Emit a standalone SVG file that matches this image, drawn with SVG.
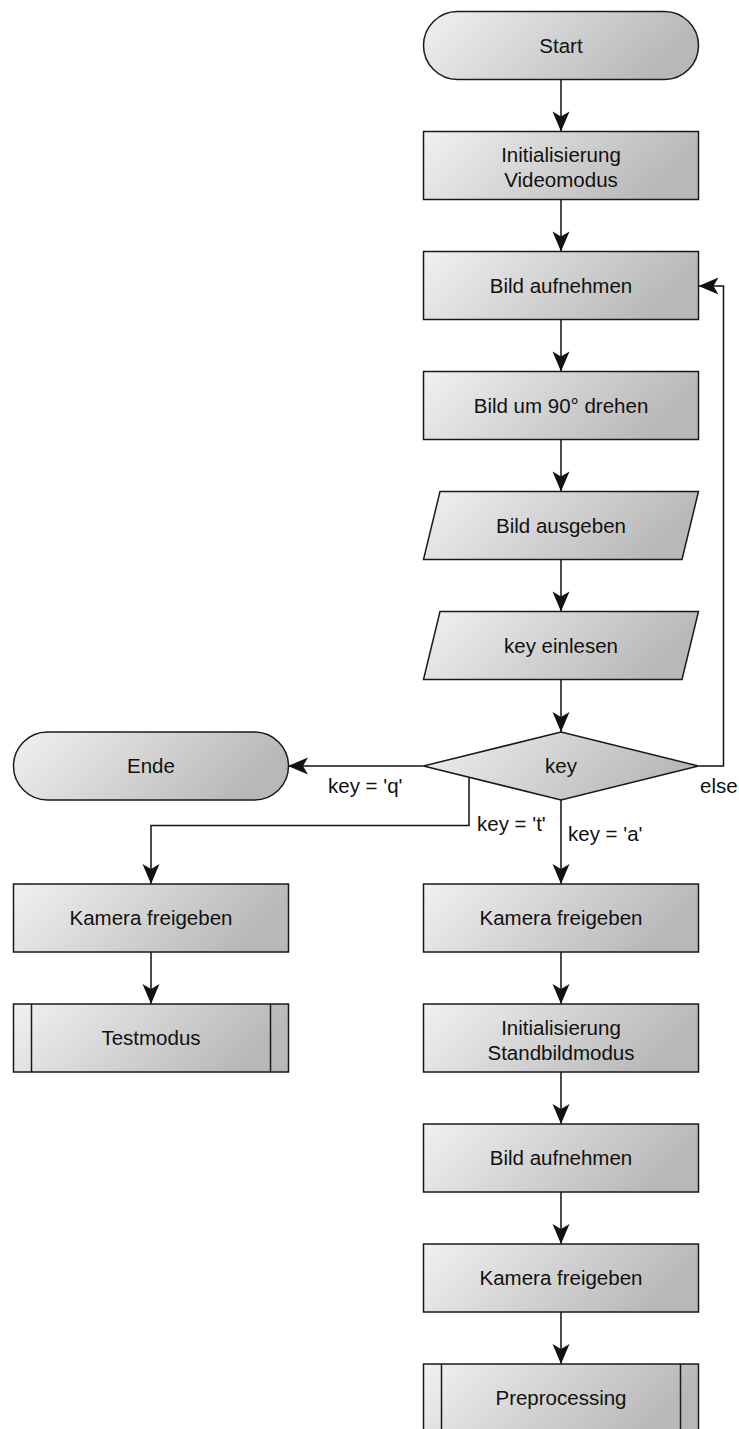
<svg xmlns="http://www.w3.org/2000/svg" width="739" height="1429" viewBox="0 0 739 1429">
  <defs>
    <linearGradient id="fillGrad" x1="0" y1="0" x2="1" y2="0.25">
      <stop offset="0" stop-color="#f1f1f1"/>
      <stop offset="1" stop-color="#b8b8b8"/>
    </linearGradient>
    <marker id="arrow" markerUnits="userSpaceOnUse" markerWidth="22" markerHeight="20" viewBox="-21 -10 22 20" refX="0" refY="0" orient="auto">
      <path d="M0,0 L-20,-8.5 L-15,0 L-20,8.5 Z" fill="#111"/>
    </marker>
    <style>
      .shape { fill: url(#fillGrad); stroke: #1a1a1a; stroke-width: 1.5; }
      .inner { fill: none; stroke: #1a1a1a; stroke-width: 1.5; }
      .label { font-family: "Liberation Sans", Arial, sans-serif; font-size: 20.5px; fill: #111; text-anchor: middle; }
      .edge-label { font-family: "Liberation Sans", Arial, sans-serif; font-size: 20.5px; fill: #111; text-anchor: start; }
      .conn { fill: none; stroke: #111; stroke-width: 1.5; marker-end: url(#arrow); }
    </style>
  </defs>
  <rect width="739" height="1429" fill="#ffffff"/>

  <!-- connectors -->
  <g id="connectors">
    <path class="conn" d="M561,79.5 V131.5"/>
    <path class="conn" d="M561,199.5 V251.5"/>
    <path class="conn" d="M561,319.5 V371.5"/>
    <path class="conn" d="M561,439.5 V491.5"/>
    <path class="conn" d="M561,559.5 V611.5"/>
    <path class="conn" d="M561,679.5 V732"/>
    <path class="conn" d="M423.5,766 H288"/>
    <path class="conn" d="M698.5,766 H723.5 V286 H698.5"/>
    <path class="conn" d="M469,777 V825.5 H151 V884"/>
    <path class="conn" d="M561,800 V884"/>
    <path class="conn" d="M151,952 V1004"/>
    <path class="conn" d="M561,952 V1004"/>
    <path class="conn" d="M561,1072 V1124"/>
    <path class="conn" d="M561,1192 V1244"/>
    <path class="conn" d="M561,1312 V1364"/>
    <text class="edge-label" x="328" y="793">key = 'q'</text>
    <text class="edge-label" x="700" y="793">else</text>
    <text class="edge-label" x="477" y="831">key = 't'</text>
    <text class="edge-label" x="568" y="841">key = 'a'</text>
  </g>

  <!-- right column -->
  <g id="start">
    <rect class="shape" x="423.5" y="11.5" width="275" height="68" rx="34" ry="34"/>
    <text class="label" x="561" y="52.5">Start</text>
  </g>
  <g id="init-video">
    <rect class="shape" x="423.5" y="131.5" width="275" height="68"/>
    <text class="label" x="561" y="162">Initialisierung</text>
    <text class="label" x="561" y="187">Videomodus</text>
  </g>
  <g id="capture-1">
    <rect class="shape" x="423.5" y="251.5" width="275" height="68"/>
    <text class="label" x="561" y="292.5">Bild aufnehmen</text>
  </g>
  <g id="rotate">
    <rect class="shape" x="423.5" y="371.5" width="275" height="68"/>
    <text class="label" x="561" y="412.5">Bild um 90° drehen</text>
  </g>
  <g id="output-image">
    <polygon class="shape" points="440,491.5 698.5,491.5 682,559.5 423.5,559.5"/>
    <text class="label" x="561" y="532.5">Bild ausgeben</text>
  </g>
  <g id="read-key">
    <polygon class="shape" points="440,611.5 698.5,611.5 682,679.5 423.5,679.5"/>
    <text class="label" x="561" y="652.5">key einlesen</text>
  </g>
  <g id="decision-key">
    <polygon class="shape" points="561,732 698.5,766 561,800 423.5,766"/>
    <text class="label" x="561" y="773">key</text>
  </g>
  <g id="release-cam-a">
    <rect class="shape" x="423.5" y="884" width="275" height="68"/>
    <text class="label" x="561" y="925">Kamera freigeben</text>
  </g>
  <g id="init-still">
    <rect class="shape" x="423.5" y="1004" width="275" height="68"/>
    <text class="label" x="561" y="1034.5">Initialisierung</text>
    <text class="label" x="561" y="1059.5">Standbildmodus</text>
  </g>
  <g id="capture-2">
    <rect class="shape" x="423.5" y="1124" width="275" height="68"/>
    <text class="label" x="561" y="1165">Bild aufnehmen</text>
  </g>
  <g id="release-cam-final">
    <rect class="shape" x="423.5" y="1244" width="275" height="68"/>
    <text class="label" x="561" y="1285">Kamera freigeben</text>
  </g>
  <g id="preprocessing">
    <rect class="shape" x="423.5" y="1364" width="275" height="68"/>
    <line class="inner" x1="441.5" y1="1364" x2="441.5" y2="1432"/>
    <line class="inner" x1="680.5" y1="1364" x2="680.5" y2="1432"/>
    <text class="label" x="561" y="1405">Preprocessing</text>
  </g>

  <!-- left column -->
  <g id="end">
    <rect class="shape" x="13.5" y="732" width="275" height="68" rx="34" ry="34"/>
    <text class="label" x="151" y="773">Ende</text>
  </g>
  <g id="release-cam-t">
    <rect class="shape" x="13.5" y="884" width="275" height="68"/>
    <text class="label" x="151" y="925">Kamera freigeben</text>
  </g>
  <g id="testmode">
    <rect class="shape" x="13.5" y="1004" width="275" height="68"/>
    <line class="inner" x1="31.5" y1="1004" x2="31.5" y2="1072"/>
    <line class="inner" x1="270.5" y1="1004" x2="270.5" y2="1072"/>
    <text class="label" x="151" y="1045">Testmodus</text>
  </g>
</svg>
